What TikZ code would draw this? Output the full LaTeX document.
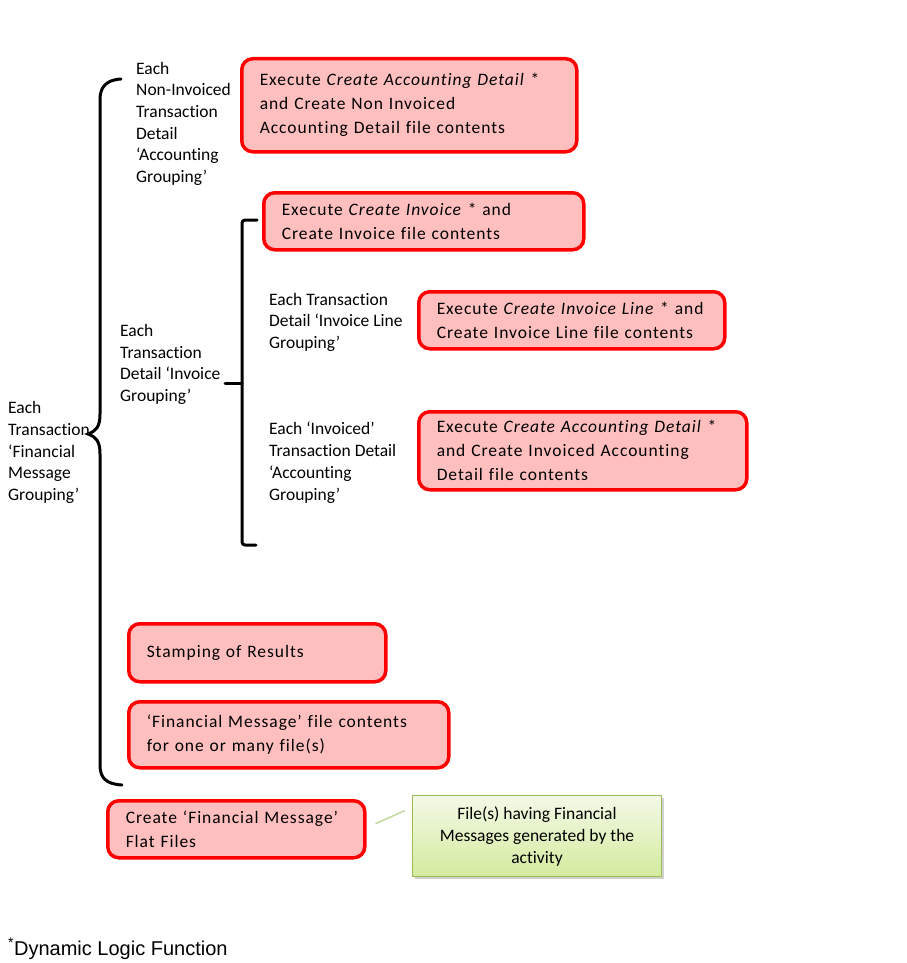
\documentclass[tikz,border=0pt]{standalone}
\usepackage{fontspec}
\setmainfont{Carlito}[Ligatures=NoCommon]
\newfontfamily\notefamily{Liberation Sans}
\usetikzlibrary{calc,shadows}

\definecolor{actred}{RGB}{255,0,0}
\definecolor{actpink}{RGB}{255,191,191}
\definecolor{noteline}{RGB}{155,187,89}
\definecolor{notetop}{RGB}{243,249,231}
\definecolor{notebottom}{RGB}{212,235,158}
\definecolor{linkgreen}{RGB}{195,214,155}
\newcommand\actfont{\fontsize{17.5}{24}\selectfont\addfontfeatures{LetterSpace=5.5}}
\newcommand\grpfont{\fontsize{17.5}{21.7}\selectfont}

\begin{document}
\begin{tikzpicture}[
	x=1pt,y=-1pt,
	actbox/.style={draw=actred,fill=actpink,line width=3.5pt,rounded corners=11pt,
		anchor=north west,align=left,inner xsep=18pt,inner ysep=0pt,font=\actfont},
	grplabel/.style={anchor=base west,align=left,inner sep=0pt,font=\grpfont},
	notebox/.style={draw=noteline,line width=1pt,top color=notetop,bottom color=notebottom,
		drop shadow={shadow xshift=2pt,shadow yshift=-2pt,fill=black!35},
		anchor=north west,align=center,inner sep=0pt,font=\fontsize{17.5}{22}\selectfont},
	brace/.style={line width=3pt,line cap=round}]
	\useasboundingbox (0,0) rectangle (906,963);
	% boxes
	\node[actbox,text width=299pt,minimum height=93pt] (acc) at (240,57)
		{Execute \textit{Create Accounting Detail} *\\and Create Non Invoiced\\Accounting Detail file contents};
	\node[actbox,text width=284pt,minimum height=57pt] (inv) at (262,191)
		{Execute \textit{Create Invoice} * and\\Create Invoice file contents};
	\node[actbox,text width=270pt,minimum height=57pt] (line) at (417,290)
		{Execute \textit{Create Invoice Line} * and\\Create Invoice Line file contents};
	\node[actbox,text width=292pt,minimum height=78pt] (invacc) at (417,410)
		{Execute \textit{Create Accounting Detail} *\\and Create Invoiced Accounting\\Detail file contents};
	\node[actbox,text width=221pt,minimum height=58pt] (stamp) at (127,622)
		{Stamping of Results};
	\node[actbox,text width=284pt,minimum height=66pt] (msg) at (127,700)
		{‘Financial Message’ file contents\\for one or many file(s)};
	\node[actbox,text width=221pt,minimum height=57pt] (flat) at (106,799)
		{Create ‘Financial Message’\\Flat Files};
	\node[notebox,minimum width=249pt,minimum height=81pt] (note) at (412,795)
		{File(s) having Financial\\Messages generated by the\\activity};
	\draw[linkgreen,line width=1.5pt] ($(flat.east)+(9,-5.5)$) -- ($(note.west)+(-7,-25.5)$);
	% groupings (anchored at the baseline of the last line)
	\node[grplabel] (nonacc) at (136,182.5)
		{Each\\Non-Invoiced\\Transaction\\Detail\\‘Accounting\\Grouping’};
	\node[grplabel] (invgrp) at (120,401.5)
		{Each\\Transaction\\Detail ‘Invoice\\Grouping’};
	\node[grplabel] (fingrp) at (8,500.5)
		{Each\\Transaction\\‘Financial\\Message\\Grouping’};
	\node[grplabel] (linegrp) at (269,348.5)
		{Each Transaction\\Detail ‘Invoice Line\\Grouping’};
	\node[grplabel] (accgrp) at (269,500)
		{Each ‘Invoiced’\\Transaction Detail\\‘Accounting\\Grouping’};
	% braces
	\draw[brace] (121,79) .. controls (105,80) and (100,88) .. (100,100) -- (100,414)
		.. controls (100,427) and (96,431) .. (88,434)
		.. controls (96,437) and (100,441) .. (100,454) -- (100,765)
		.. controls (100,778) and (106,784) .. (122,785);
	\draw[brace] (257,220) -- (246,220) [rounded corners=3pt] -- (242,220) -- (242,545) -- (256,545);
	\draw[brace] (242,383) -- (225,383);
	% footnote
	\node[anchor=base west,inner sep=0pt,font=\notefamily\fontsize{20}{24}\selectfont] (dlf) at (8,955)
		{\textsuperscript{*}Dynamic Logic Function};
\end{tikzpicture}
\end{document}
